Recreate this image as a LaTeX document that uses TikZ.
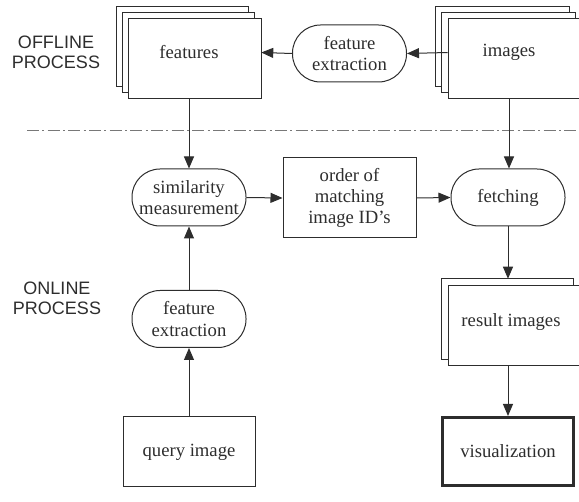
\documentclass[tikz,border=0pt]{standalone}
\usepackage{fontspec}
\setmainfont{Liberation Serif}
\newfontfamily\phasefont{Liberation Sans}
\usetikzlibrary{arrows.meta,calc,backgrounds}

\definecolor{ink}{RGB}{45,45,45}
\definecolor{rule}{RGB}{120,120,120}

\begin{document}
\begin{tikzpicture}[x=0.75pt,y=0.75pt,yscale=-1,xscale=1,
   every node/.style={text=ink},
   phase/.style={align=center,font=\phasefont\fontsize{13.5}{15}\selectfont},
   stack/.style={inner sep=0pt,align=center,font=\fontsize{14}{16}\selectfont},
   proc/.style={draw=ink,line width=0.75pt,rounded corners=21pt,minimum width=85.5pt,minimum height=42.75pt,inner sep=0pt,align=center,font=\fontsize{14}{16}\selectfont},
   datum/.style={draw=ink,line width=0.75pt,minimum width=99pt,minimum height=52.5pt,inner sep=1pt,align=center,font=\fontsize{14}{16}\selectfont},
   sheet/.style={draw=ink,fill=white,line width=0.75pt},
   flow/.style={draw=ink,line width=0.75pt,-{Triangle[length=9pt,width=7.5pt]}}]
   \useasboundingbox (0,0) rectangle (579,502);

   % side labels
   \node[phase] (offline) at (56,52) {OFFLINE\\PROCESS};
   \node[phase] (online) at (57,298) {ONLINE\\PROCESS};

   % offline / online split
   \draw [rule,line width=0.75pt,dash pattern=on 9pt off 2.5pt on 1.5pt off 2.5pt] (27,131) -- (579,131);

   % stacks of sheets (text only, sheets go on the background)
   \node[stack,minimum width=108pt,minimum height=68.25pt] (feat) at (189,52.5) {features};
   \node[stack,minimum width=109.5pt,minimum height=68.25pt] (imgs) at (509,52.5) {images};
   \node[stack,minimum width=103.5pt,minimum height=64.5pt] (result) at (511,322) {result images};

   % processes
   \node[proc] (fextA) at (349.5,53.5) {feature\\extraction};
   \node[proc] (simil) at (189,197.5) {similarity\\measurement};
   \node[proc] (fetch) at (508,197.5) {fetching};
   \node[proc] (fextB) at (189,319) {feature\\extraction};

   % data boxes
   \node[datum,minimum width=99.75pt,minimum height=60pt] (order) at (349.5,198) {order of\\matching\\image ID’s};
   \node[datum] (query) at (189,452) {query image};
   \node[datum,line width=2.25pt,minimum width=98.25pt,minimum height=51pt] (vis) at (508,451.5) {visualization};

   \begin{scope}[on background layer]
      \draw[sheet] (feat.north west) rectangle ++(132,80);
      \draw[sheet] ($(feat.north west)+(6,6)$) rectangle ++(132,80);
      \draw[sheet] (feat.south east) rectangle ++(-133,-80);

      \draw[sheet] (imgs.north west) rectangle ++(134,80);
      \draw[sheet] ($(imgs.north west)+(6,6)$) rectangle ++(134,80);
      \draw[sheet] (imgs.south east) rectangle ++(-134,-80);

      \draw[sheet] (result.north west) rectangle ++(132,81);
      \draw[sheet] (result.south east) rectangle ++(-132,-80);
   \end{scope}

   % connectors
   \draw[flow] ($(imgs.west)+(12,0)$) -- (fextA.east);
   \draw[flow] (fextA.west) -- (feat.east);
   \draw[flow] (feat.south) -- (simil.north);
   \draw[flow] (imgs.south) -- (imgs.south |- fetch.north);
   \draw[flow] (simil.east) -- (order.west);
   \draw[flow] (order.east) -- (fetch.west);
   \draw[flow] (fetch.south) -- (fetch.south |- result.north);
   \draw[flow] (vis.north |- result.south) -- (vis.north);
   \draw[flow] (fextB.north) -- (simil.south);
   \draw[flow] (query.north) -- (fextB.south);
\end{tikzpicture}
\end{document}
